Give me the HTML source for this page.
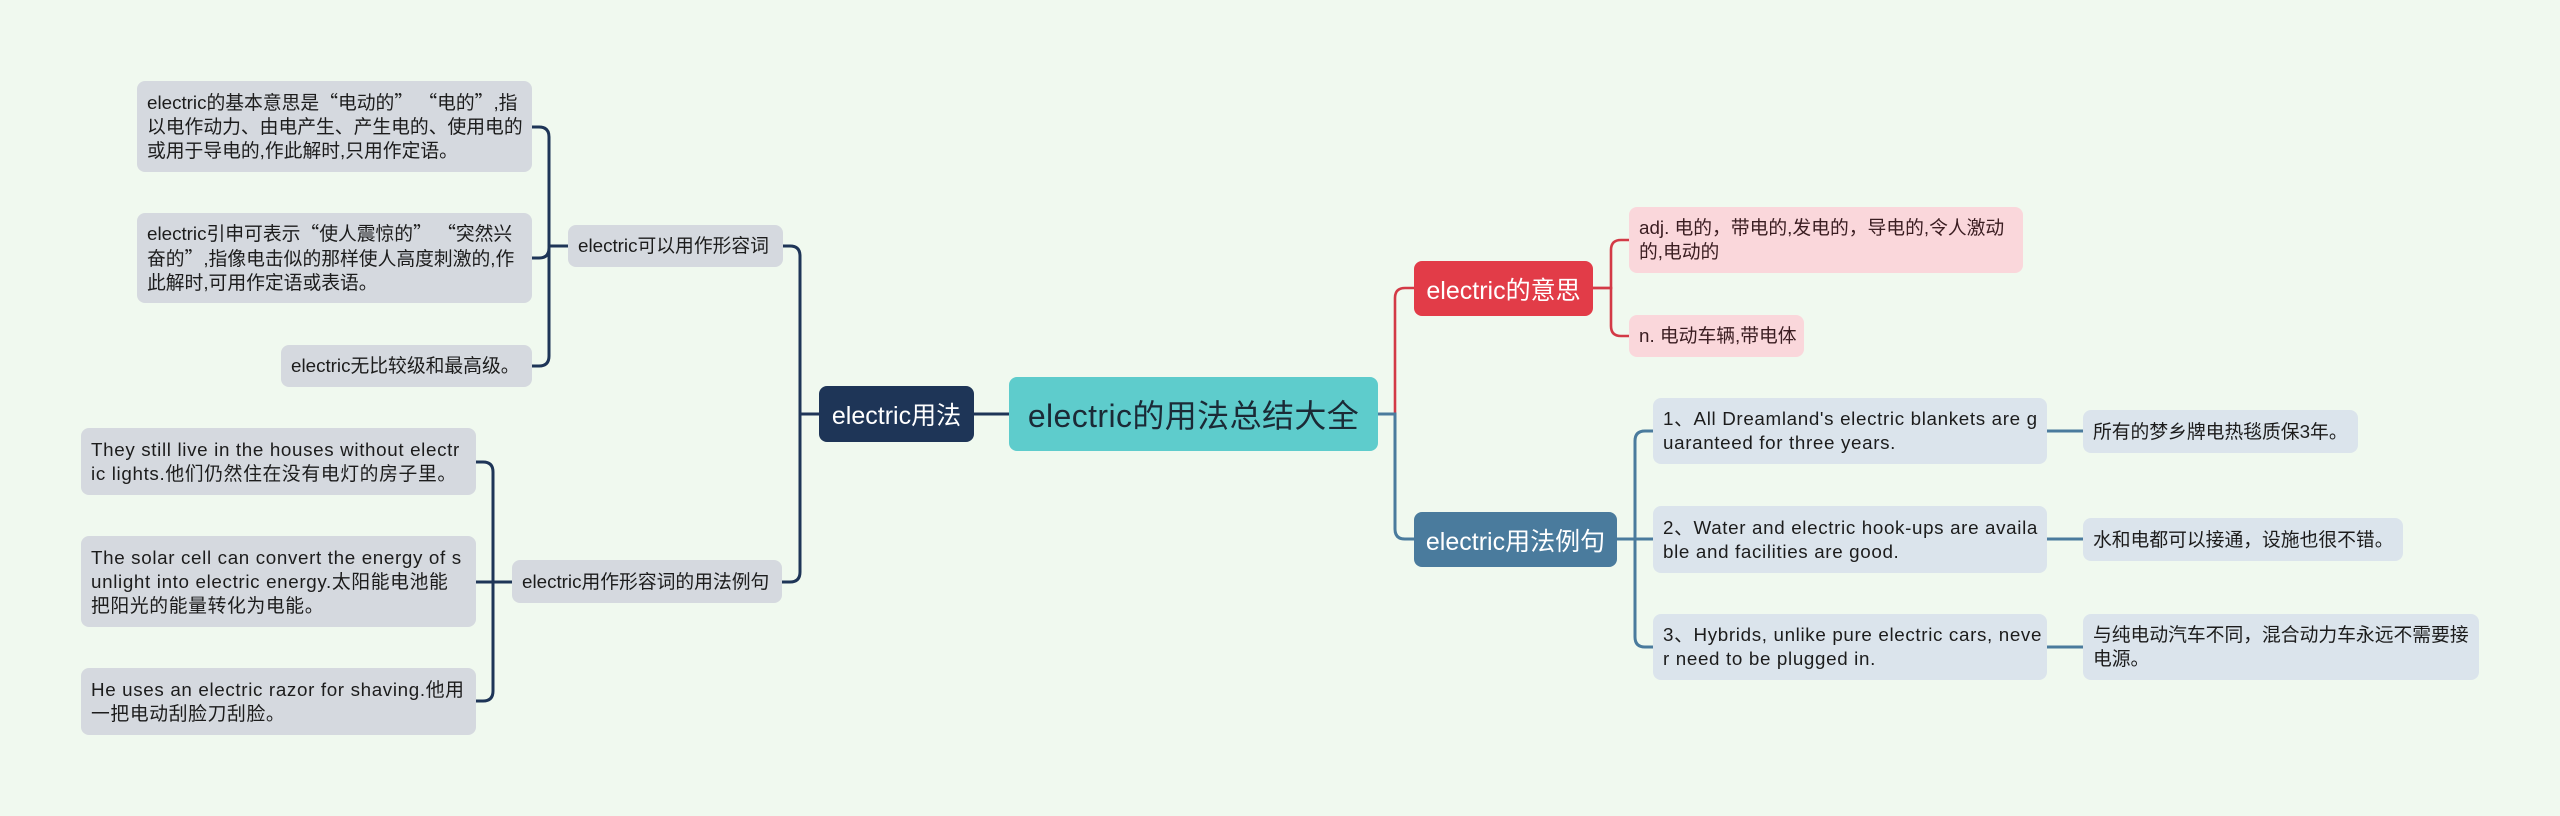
<!DOCTYPE html>
<html>
<head>
<meta charset="utf-8">
<style>
  html, body { margin:0; padding:0; }
  body {
    width:2560px; height:816px; background:#f0f9ef; position:relative; overflow:hidden;
    font-family:"Liberation Sans","Noto Sans CJK SC",sans-serif;
  }
  .n {
    position:absolute; box-sizing:border-box; border-radius:8px;
    display:flex; flex-direction:column; justify-content:center;
    white-space:nowrap;
  }
  .c { align-items:center; }
  .t {
    font-size:18.8px; line-height:24px; padding:0 10px; color:#1c1c1c;
  }
  .g { background:#d5d9df; }
  .b { background:#dbe4ec; }
  .p { background:#fad7db; color:#3a1d21; }
  .en { letter-spacing:0.65px; }
  .q { font-family:"Noto Sans CJK SC",sans-serif; }
  svg { position:absolute; left:0; top:0; }
</style>
</head>
<body>
<svg width="2560" height="816" viewBox="0 0 2560 816" fill="none" stroke-linecap="butt">
  <!-- left main -->
  <g stroke="#1e3557" stroke-width="3">
    <path d="M1009,414 H974"/>
    <path d="M819,414 H800 V256 Q800,246 790,246 H783"/>
    <path d="M819,414 H800 V572 Q800,582 790,582 H782"/>
    <path d="M568,246 H549 V137 Q549,127 539,127 H532"/>
    <path d="M568,246 H549 V248 Q549,258 539,258 H532"/>
    <path d="M568,246 H549 V356 Q549,366 539,366 H532"/>
    <path d="M512,582 H493 V472 Q493,462 483,462 H476"/>
    <path d="M512,582 H476"/>
    <path d="M512,582 H493 V691 Q493,701 483,701 H476"/>
  </g>
  <!-- red -->
  <g stroke="#d33a46" stroke-width="2.6">
    <path d="M1377,414 H1395 V298 Q1395,288 1405,288 H1414"/>
    <path d="M1593,288 H1611 V250 Q1611,240 1621,240 H1629"/>
    <path d="M1593,288 H1611 V326 Q1611,336 1621,336 H1629"/>
  </g>
  <!-- blue -->
  <g stroke="#4a7b9d" stroke-width="3">
    <path d="M1377,414 H1395 V529 Q1395,539 1405,539 H1414"/>
    <path d="M1617,539 H1635 V441 Q1635,431 1645,431 H1653"/>
    <path d="M1617,539 H1653"/>
    <path d="M1617,539 H1635 V637 Q1635,647 1645,647 H1653"/>
    <path d="M2047,431 H2083"/>
    <path d="M2047,539 H2083"/>
    <path d="M2047,647 H2083"/>
  </g>
</svg>

<!-- central -->
<div class="n c" style="left:1009px;top:377px;width:369px;height:74px;background:#5ecccc;color:#1b2a36;font-size:32px;letter-spacing:0.4px;">electric的用法总结大全</div>

<!-- level 1 -->
<div class="n c" style="left:819px;top:386px;width:155px;height:56px;background:#1e3557;color:#fff;font-size:25px;">electric用法</div>
<div class="n c" style="left:1414px;top:261px;width:179px;height:55px;background:#e23c48;color:#fff;font-size:25px;">electric的意思</div>
<div class="n c" style="left:1414px;top:512px;width:203px;height:55px;background:#4a7b9d;color:#fff;font-size:25px;">electric用法例句</div>

<!-- level 2 left -->
<div class="n t g" style="left:568px;top:225px;width:215px;height:42px;">electric可以用作形容词</div>
<div class="n t g" style="left:512px;top:560px;width:270px;height:43px;">electric用作形容词的用法例句</div>

<!-- left leaves -->
<div class="n t g" style="left:137px;top:81px;width:395px;height:91px;">
  <div>electric的基本意思是<span class="q">“</span>电动的<span class="q">”</span> <span class="q">“</span>电的<span class="q">”</span>,指</div>
  <div>以电作动力、由电产生、产生电的、使用电的</div>
  <div>或用于导电的,作此解时,只用作定语。</div>
</div>
<div class="n t g" style="left:137px;top:213px;width:395px;height:90px;">
  <div>electric引申可表示<span class="q">“</span>使人震惊的<span class="q">”</span> <span class="q">“</span>突然兴</div>
  <div>奋的<span class="q">”</span>,指像电击似的那样使人高度刺激的,作</div>
  <div>此解时,可用作定语或表语。</div>
</div>
<div class="n t g" style="left:281px;top:345px;width:251px;height:42px;">electric无比较级和最高级。</div>

<div class="n t g en" style="left:81px;top:428px;width:395px;height:67px;">
  <div>They still live in the houses without electr</div>
  <div>ic lights.他们仍然住在没有电灯的房子里。</div>
</div>
<div class="n t g en" style="left:81px;top:536px;width:395px;height:91px;">
  <div>The solar cell can convert the energy of s</div>
  <div>unlight into electric energy.太阳能电池能</div>
  <div>把阳光的能量转化为电能。</div>
</div>
<div class="n t g en" style="left:81px;top:668px;width:395px;height:67px;">
  <div>He uses an electric razor for shaving.他用</div>
  <div>一把电动刮脸刀刮脸。</div>
</div>

<!-- right: meaning -->
<div class="n t p" style="left:1629px;top:207px;width:394px;height:66px;">
  <div>adj. 电的，带电的,发电的，导电的,令人激动</div>
  <div>的,电动的</div>
</div>
<div class="n t p" style="left:1629px;top:315px;width:175px;height:42px;">n. 电动车辆,带电体</div>

<!-- right: examples -->
<div class="n t b en" style="left:1653px;top:398px;width:394px;height:66px;">
  <div>1、All Dreamland's electric blankets are g</div>
  <div>uaranteed for three years.</div>
</div>
<div class="n t b en" style="left:1653px;top:506px;width:394px;height:67px;">
  <div>2、Water and electric hook-ups are availa</div>
  <div>ble and facilities are good.</div>
</div>
<div class="n t b en" style="left:1653px;top:614px;width:394px;height:66px;">
  <div>3、Hybrids, unlike pure electric cars, neve</div>
  <div>r need to be plugged in.</div>
</div>

<div class="n t b" style="left:2083px;top:410px;width:275px;height:43px;">所有的梦乡牌电热毯质保3年。</div>
<div class="n t b" style="left:2083px;top:518px;width:320px;height:43px;">水和电都可以接通，设施也很不错。</div>
<div class="n t b" style="left:2083px;top:614px;width:396px;height:66px;">
  <div>与纯电动汽车不同，混合动力车永远不需要接</div>
  <div>电源。</div>
</div>
</body>
</html>
